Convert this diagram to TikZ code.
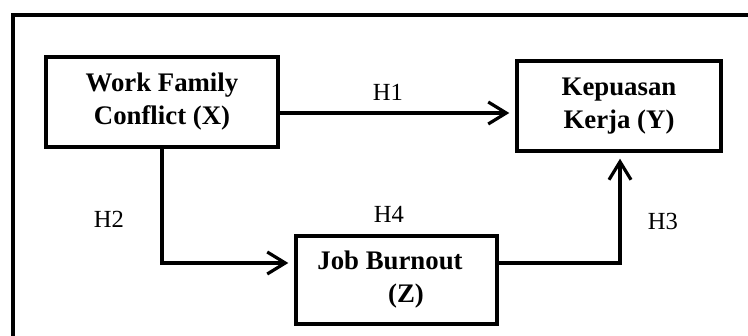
\documentclass[tikz,border=0pt]{standalone}
\usepackage{fontspec}
\setmainfont{Liberation Serif}
\usetikzlibrary{arrows.meta}
\begin{document}
\begin{tikzpicture}[x=0.5pt,y=-0.5pt,
  varbox/.style={draw,line width=1.7pt,inner sep=0pt,align=center,
    font=\fontsize{13.4}{16.5}\selectfont\bfseries},
  path/.style={line width=1.6pt,-{Straight Barb[length=9pt,width=11pt,line width=1.6pt]},shorten >=3pt},
  hyp/.style={font=\fontsize{12.3}{14}\selectfont}]
\useasboundingbox (0,0) rectangle (748,336);
% outer frame (only its top and left sides fall inside the page)
\begin{scope}
  \clip (0,0) rectangle (748,336);
  \draw[line width=2pt] (13,15) rectangle (800,400);
\end{scope}
% variables
\node[varbox,minimum width=116pt,minimum height=45pt] (x) at (162,102)
  {Work Family\\Conflict (X)};
\node[varbox,minimum width=102pt,minimum height=45pt] (y) at (619,106)
  {Kepuasan\\Kerja (Y)};
\node[varbox,minimum width=100.5pt,minimum height=44pt] (z) at (396.5,280)
  {Job Burnout\hspace*{6.5pt}\\\hspace*{9.5pt}(Z)};
% paths
\draw[path] (x.east |- 0,113) -- (y.west |- 0,113);
\coordinate (xz) at (162,263);
\coordinate (zy) at (620,263);
\draw[path] (x.south -| xz) -- (xz) -- (z.west |- xz);
\draw[path] (z.east |- zy) -- (zy) -- (y.south -| zy);
% hypothesis labels
\node[hyp] (h1) at (388,92) {H1};
\node[hyp] (h2) at (109,219) {H2};
\node[hyp] (h4) at (389,214) {H4};
\node[hyp] (h3) at (663,221) {H3};
\end{tikzpicture}
\end{document}
